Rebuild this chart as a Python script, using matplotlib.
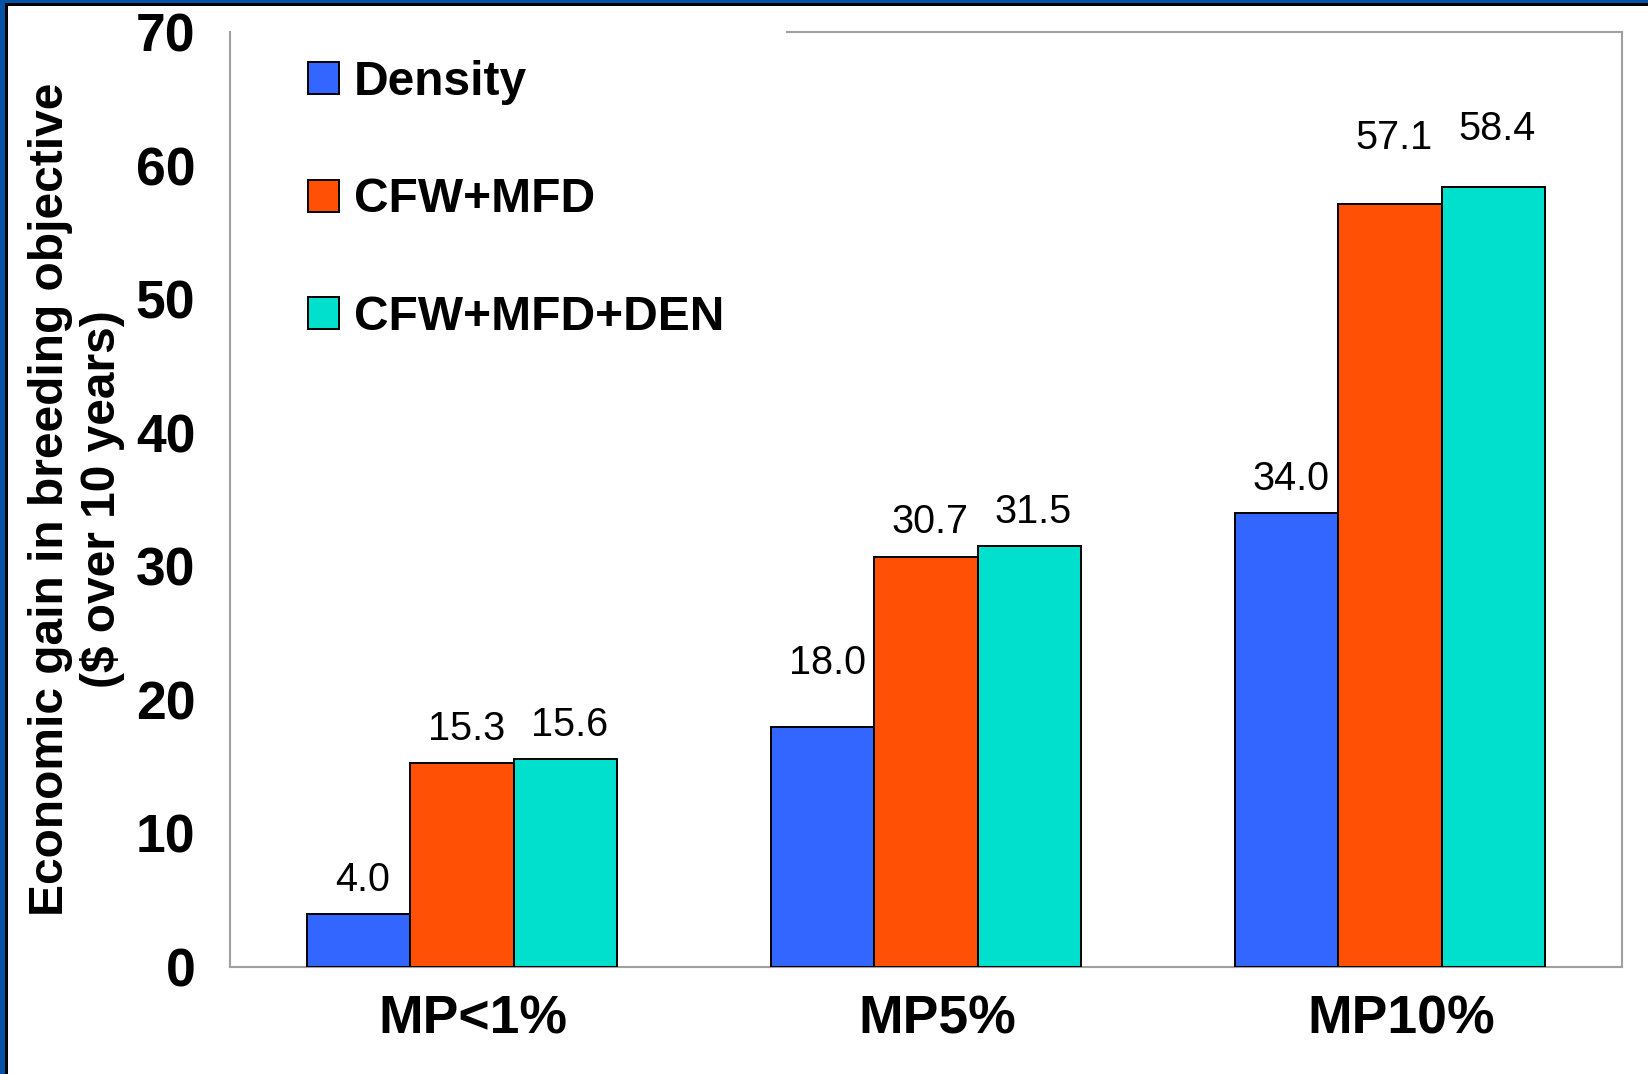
import matplotlib
matplotlib.use("Agg")
import matplotlib.pyplot as plt
from matplotlib.patches import Rectangle
from matplotlib.transforms import ScaledTranslation
import numpy as np

plt.rcParams['font.family'] = ['Liberation Sans', 'DejaVu Sans']

# ---- data ----
categories = ["MP<1%", "MP5%", "MP10%"]
series_names = ["Density", "CFW+MFD", "CFW+MFD+DEN"]
density = [4.0, 18.0, 34.0]
cfw_mfd = [15.3, 30.7, 57.1]
cfw_mfd_den = [15.6, 31.5, 58.4]
yticks = [0, 10, 20, 30, 40, 50, 60, 70]

# ---- style ----
colors = ["#3366FF", "#FF5005", "#00E0CC"]
# label gap above bar top (points), as placed in the original
label_gaps = [[16, 38, 16.5], [16.5, 17, 40], [16, 16.5, 34]]

W, H = 1648, 1074
fig = plt.figure(figsize=(W / 100, H / 100), dpi=100)
fig.patch.set_facecolor("white")

ax = fig.add_axes([230 / W, 1 - 967 / H, (1622 - 230) / W, (967 - 32) / H])

x = np.arange(len(categories))
bw = 1 / 4.5
all_series = [density, cfw_mfd, cfw_mfd_den]
for i, (vals, name, col) in enumerate(zip(all_series, series_names, colors)):
    b = ax.bar(x + (i - 1) * bw, vals, width=bw, color=col, edgecolor="black",
               linewidth=1.4, label=name, zorder=3)
    for rect, v, g in zip(b, vals, label_gaps[i]):
        ax.annotate(f"{v:.1f}", xy=(rect.get_x() + rect.get_width() / 2, v),
                    xytext=(3, g), textcoords="offset points",
                    ha="center", va="baseline", fontsize=28.5, color="black")

ax.set_xlim(-0.5, 2.5)
ax.set_ylim(0, 70)
ax.set_yticks(yticks)
ax.set_yticklabels([str(t) for t in yticks], fontsize=38.5, fontweight="bold")
ax.set_xticks(x)
ax.set_xticklabels(categories, fontsize=38.5, fontweight="bold")
ax.tick_params(axis="both", length=0)
ax.tick_params(axis="y", pad=25)
ax.tick_params(axis="x", pad=20)
shift = ScaledTranslation(8 / 72, 0, fig.dpi_scale_trans)
for lab in ax.get_xticklabels():
    lab.set_transform(lab.get_transform() + shift)

for s in ax.spines.values():
    s.set_color("#A0A0A0")
    s.set_linewidth(1.5)
ax.spines["top"].set_bounds(0.7, 2.5)

ax.set_ylabel("Economic gain in breeding objective\n($ over 10 years)",
              fontsize=34.5, fontweight="bold", va="center", multialignment="center")
ax.yaxis.set_label_coords((77 - 230) / 1392, 0.5)

leg = ax.legend(loc="upper left", bbox_to_anchor=(308 / W, 1 - 60 / H),
                bbox_transform=fig.transFigure, frameon=False,
                prop={"weight": "bold", "size": 34.5},
                handlelength=0.65, handleheight=0.65, handletextpad=0.3,
                labelspacing=1.51, borderpad=0, borderaxespad=0)

# slide border (top and left)
fig.patches.append(Rectangle((0, 0), 5 / W, 1, transform=fig.transFigure,
                             facecolor="#0352A6", edgecolor="none", zorder=10))
fig.patches.append(Rectangle((0, 1 - 3 / H), 1, 3 / H, transform=fig.transFigure,
                             facecolor="#0352A6", edgecolor="none", zorder=10))
fig.patches.append(Rectangle((5 / W, 0), 3 / W, 1 - 3 / H, transform=fig.transFigure,
                             facecolor="black", edgecolor="none", zorder=10))
fig.patches.append(Rectangle((5 / W, 1 - 6 / H), 1, 3 / H, transform=fig.transFigure,
                             facecolor="black", edgecolor="none", zorder=10))

fig.savefig("out.png", dpi=100)
